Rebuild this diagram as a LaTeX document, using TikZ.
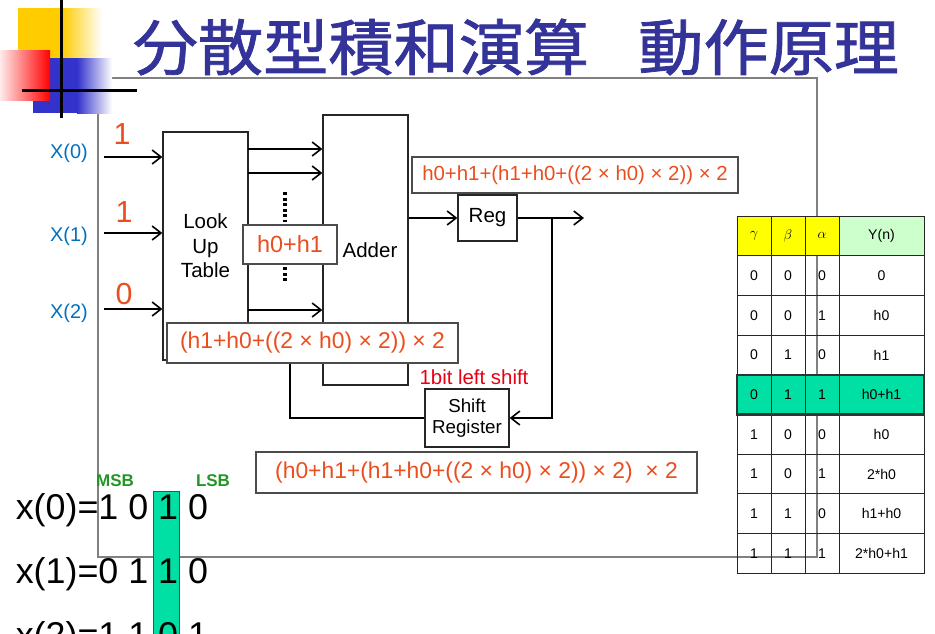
\documentclass[tikz,border=0pt]{standalone}
\usepackage{fontspec}
\setmainfont{Liberation Sans}
\newfontfamily\cjk[FakeBold=1.2, FakeStretch=1.07]{Noto Sans CJK JP}
\usetikzlibrary{arrows.meta, positioning}
\newlength{\px}
\setlength{\px}{0.03cm}
\newlength{\cw}
\setlength{\cw}{34\px}
\newlength{\ch}
\setlength{\ch}{39.7\px}
\definecolor{titlecolor}{RGB}{51,51,153}
\definecolor{incolor}{RGB}{0,112,192}
\definecolor{bitcolor}{RGB}{235,78,30}
\definecolor{shiftcolor}{RGB}{230,0,18}
\definecolor{framecolor}{RGB}{128,128,128}
\definecolor{hitcolor}{RGB}{0,224,164}
\definecolor{headcolor}{RGB}{255,255,0}
\definecolor{ycolor}{RGB}{204,255,204}
\definecolor{msbcolor}{RGB}{34,150,34}
\definecolor{decoyellow}{RGB}{255,204,0}
\definecolor{decored}{RGB}{255,0,0}
\definecolor{decoblue}{RGB}{51,51,204}
\tikzset{block/.style={draw=black!85, line width=1.3\px, inner sep=0pt, align=center, font=\fontsize{17.5pt}{21pt}\selectfont}}
\tikzset{tag/.style={draw=black!70, fill=white, line width=1.5\px, inner sep=0pt, text=bitcolor}}
\tikzset{inlabel/.style={text=incolor, inner sep=0pt, font=\fontsize{17pt}{17pt}\selectfont}}
\tikzset{bit/.style={text=bitcolor, inner sep=0pt, font=\fontsize{26pt}{26pt}\selectfont}}
\tikzset{cell/.style={draw=black!85, line width=1\px, minimum width=\cw, minimum height=\ch, inner sep=0pt, outer sep=0pt, font=\fontsize{12pt}{12pt}\selectfont}}
\tikzset{ycell/.style={cell, minimum width=85\px}}
\tikzset{bitline/.style={anchor=base west, inner sep=0pt, font=\fontsize{30.6pt}{30.6pt}\selectfont}}
\tikzset{msb/.style={text=msbcolor, inner sep=0pt, font=\bfseries\fontsize{14.5pt}{14.5pt}\selectfont}}
\tikzset{>={Straight Barb[length=7.6pt,width=11.9pt]}}

\begin{document}
\begin{tikzpicture}[x=0.03cm, y=-0.03cm, line width=1.6\px]
	\useasboundingbox (0,0) rectangle (935,633);
	\clip (0,0) rectangle (935,633);
	
	%%% BACKGROUND %%%
	
	% FRAME
	\draw[framecolor, line width=1.5\px] (98,78) rectangle (817,557);
	
	% CORNER
	\fill[decoyellow] (18,8) rectangle (62,58);
	\shade[left color=decoyellow, right color=white] (62,8) rectangle (102,58);
	\fill[decoblue] (33,58) rectangle (77,113);
	\shade[left color=decoblue, right color=white] (77,58) rectangle (112,113);
	\shade[left color=decored!8, right color=decored] (0,50) rectangle (50,100);
	\draw[line width=3\px] (61,0) -- (61,118);
	\draw[line width=3\px] (22,90) -- (137,90);
	
	%%% NODES %%%
	
	% TITLE
	\node[text=titlecolor, anchor=west, inner sep=0pt, font=\cjk\fontsize{52pt}{52pt}\selectfont] (title) at (132,47) {分散型積和演算\hspace{42pt}動作原理};
	
	% INPUTS
	\node[inlabel] (x0) at (69,153) {X(0)};
	\node[inlabel] (x1) at (69,236) {X(1)};
	\node[inlabel] (x2) at (69,313) {X(2)};
	\node[bit] (v0) at (122,134) {1};
	\node[bit] (v1) at (124,212) {1};
	\node[bit] (v2) at (124,294) {0};
	
	% LOOK UP TABLE + ADDER
	\node[block, minimum width=85\px, minimum height=228\px] (lut) at (205.5,246) {Look\\Up\\Table};
	\node[block, minimum width=85\px, minimum height=270\px] (adder) at (365.5,250) {\hspace*{9\px}Adder};
	
	% REGISTERS
	\node[block, minimum width=59\px, minimum height=46\px] (reg) at (487.5,218) {Reg};
	\node[block, minimum width=84\px, minimum height=58\px, font=\fontsize{16pt}{18pt}\selectfont] (shiftreg) at (467,418) {Shift\\Register};
	\node[text=shiftcolor, inner sep=0pt, font=\fontsize{17.4pt}{17.4pt}\selectfont] (shiftnote) at (474,377) {1bit left shift};
	
	%%% EXTRA ARROW NODES %%%
	\coordinate (s0) at (104,157);
	\coordinate (s1) at (104,233);
	\coordinate (s2) at (104,309);
	\coordinate (l0) at (248,149);
	\coordinate (l1) at (248,173);
	\coordinate (l2) at (248,310);
	\coordinate (out) at (584,218);
	\coordinate (br) at (552,218);
	\coordinate (fb) at (290,356);
	
	%%% ARROWS %%%
	
	% INPUTS
	\draw[->] (s0) -- (s0 -| lut.west);
	\draw[->] (s1) -- (s1 -| lut.west);
	\draw[->] (s2) -- (s2 -| lut.west);
	
	% TABLE TO ADDER
	\draw[->] (l0) -- (l0 -| adder.west);
	\draw[->] (l1) -- (l1 -| adder.west);
	\draw[->] (l2) -- (l2 -| adder.west);
	\draw[line width=3.5\px, dash pattern=on 3\px off 2.5\px] (285,192) -- (285,222);
	\draw[line width=3.5\px, dash pattern=on 3\px off 2.5\px] (285,267) -- (285,283);
	
	% ACCUMULATE
	\draw[->] (adder.east |- reg.west) -- (reg.west);
	\draw[->] (reg.east) -- (out);
	\draw[->] (br) |- (shiftreg.east);
	\draw (shiftreg.west) -| (fb);
	\draw[->] (fb) -- (fb -| adder.west);
	
	%%% VALUES %%%
	\node[tag, minimum width=94\px, minimum height=39\px, font=\fontsize{20pt}{20pt}\selectfont] (sum01) at (290,244.5) {h0+h1};
	\node[tag, minimum width=291\px, minimum height=40\px, font=\fontsize{19.5pt}{19.5pt}\selectfont] (partial) at (312.5,343) {(h1+h0+((2 × h0) × 2)) × 2};
	\node[tag, minimum width=326\px, minimum height=36\px, font=\fontsize{17.4pt}{17.4pt}\selectfont] (regsum) at (575,175) {h0+h1+(h1+h0+((2 × h0) × 2)) × 2};
	\node[tag, minimum width=441\px, minimum height=41\px, font=\fontsize{19.5pt}{19.5pt}\selectfont] (shifted) at (476.5,472.5) {(h0+h1+(h1+h0+((2 × h0) × 2)) × 2)\ \ × 2};
	
	%%% TRUTH TABLE %%%
	
	% HEADER
	\node[cell, fill=headcolor] (gamma) at (754,235.85) {$\gamma$};
	\node[cell, fill=headcolor, right=0pt of gamma] (beta) {$\beta$};
	\node[cell, fill=headcolor, right=0pt of beta] (alpha) {$\alpha$};
	\node[ycell, fill=ycolor, right=0pt of alpha] (yn) {Y(n)};
	
	% ROWS
	\node[cell, below=0pt of gamma] (g1) {0};
	\node[cell, right=0pt of g1] (b1) {0};
	\node[cell, right=0pt of b1] (a1) {0};
	\node[ycell, right=0pt of a1] (y1) {0};
	
	\node[cell, below=0pt of g1] (g2) {0};
	\node[cell, right=0pt of g2] (b2) {0};
	\node[cell, right=0pt of b2] (a2) {1};
	\node[ycell, right=0pt of a2] (y2) {h0};
	
	\node[cell, below=0pt of g2] (g3) {0};
	\node[cell, right=0pt of g3] (b3) {1};
	\node[cell, right=0pt of b3] (a3) {0};
	\node[ycell, right=0pt of a3] (y3) {h1};
	
	\node[cell, fill=hitcolor, below=0pt of g3] (g4) {0};
	\node[cell, fill=hitcolor, right=0pt of g4] (b4) {1};
	\node[cell, fill=hitcolor, right=0pt of b4] (a4) {1};
	\node[ycell, fill=hitcolor, right=0pt of a4] (y4) {h0+h1};
	
	\node[cell, below=0pt of g4] (g5) {1};
	\node[cell, right=0pt of g5] (b5) {0};
	\node[cell, right=0pt of b5] (a5) {0};
	\node[ycell, right=0pt of a5] (y5) {h0};
	
	\node[cell, below=0pt of g5] (g6) {1};
	\node[cell, right=0pt of g6] (b6) {0};
	\node[cell, right=0pt of b6] (a6) {1};
	\node[ycell, right=0pt of a6] (y6) {2*h0};
	
	\node[cell, below=0pt of g6] (g7) {1};
	\node[cell, right=0pt of g7] (b7) {1};
	\node[cell, right=0pt of b7] (a7) {0};
	\node[ycell, right=0pt of a7] (y7) {h1+h0};
	
	\node[cell, below=0pt of g7] (g8) {1};
	\node[cell, right=0pt of g8] (b8) {1};
	\node[cell, right=0pt of b8] (a8) {1};
	\node[ycell, right=0pt of a8] (y8) {2*h0+h1};
	
	\draw[line width=2.5\px, draw=black!80] (g4.north west) rectangle (y4.south east);
	
	%%% INPUT WORDS %%%
	\draw[draw=black!70, fill=hitcolor, line width=1\px] (153,491) rectangle (179,640);
	\node[msb] (msb) at (115,481) {MSB};
	\node[msb] (lsb) at (213,481) {LSB};
	\node[bitline] (w0) at (15,519) {x(0)=1 0 1 0};
	\node[bitline] (w1) at (15,583) {x(1)=0 1 1 0};
	\node[bitline] (w2) at (15,647) {x(2)=1 1 0 1};
	
\end{tikzpicture}
\end{document}
